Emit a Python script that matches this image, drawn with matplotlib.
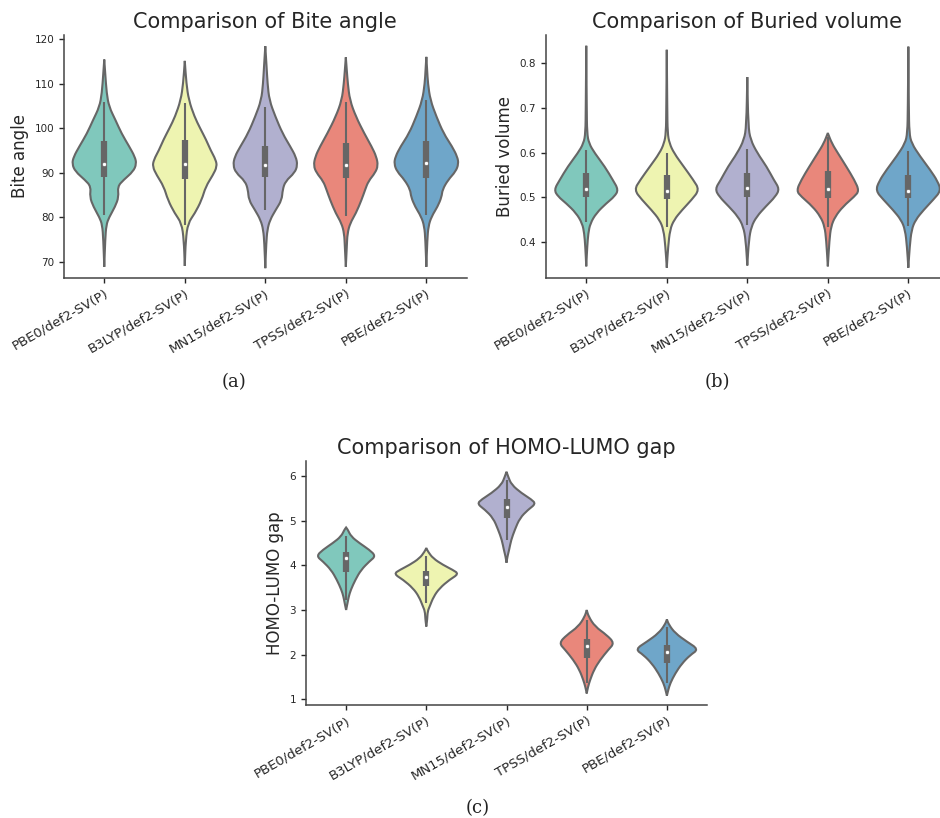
import matplotlib
matplotlib.use("Agg")
import matplotlib.pyplot as plt
from matplotlib.path import Path
from matplotlib.patches import PathPatch

methods = ["PBE0/def2-SV(P)", "B3LYP/def2-SV(P)", "MN15/def2-SV(P)",
           "TPSS/def2-SV(P)", "PBE/def2-SV(P)"]
palette = ["#80c8bc", "#eef4b1", "#b1b0cf", "#e9877b", "#6fa6c9"]

# ---- Bite angle: density outline (value levels, half widths) and box stats
bite_levels = [
    [68.9, 75.0, 78.3, 80.0, 82.4, 84.6, 86.9, 88.4, 90.3, 92.0, 93.6, 95.9, 98.8, 101.8, 104.8, 107.8, 112.3, 115.4],
    [69.1, 75.0, 78.7, 80.9, 83.9, 86.9, 89.5, 91.4, 92.9, 95.1, 97.4, 100.0, 102.6, 106.3, 110.0, 115.1],
    [68.6, 74.2, 77.2, 79.4, 81.7, 83.9, 86.2, 88.1, 90.0, 91.7, 93.6, 95.9, 98.8, 102.6, 106.3, 110.0, 113.8, 118.4],
    [68.9, 73.4, 76.4, 78.7, 80.9, 83.9, 86.2, 88.1, 90.0, 91.6, 93.6, 95.9, 98.8, 102.6, 106.3, 110.0, 113.0, 115.9],
    [68.9, 74.9, 78.0, 80.2, 82.4, 84.6, 86.2, 88.4, 90.3, 92.0, 93.6, 95.9, 98.8, 102.6, 106.3, 110.0, 113.0, 116.0],
]
bite_widths = [
    [0, .012, .025, .06, .135, .18, .165, .24, .36, .40, .38, .31, .215, .14, .06, .03, .012, 0],
    [0, .012, .04, .125, .21, .26, .35, .40, .385, .32, .265, .19, .12, .05, .02, 0],
    [0, .012, .025, .058, .13, .205, .215, .25, .365, .40, .38, .31, .215, .125, .05, .028, .016, 0],
    [0, .012, .02, .054, .125, .195, .24, .28, .365, .40, .38, .32, .23, .125, .05, .025, .012, 0],
    [0, .012, .025, .065, .14, .19, .20, .27, .365, .40, .385, .32, .215, .125, .05, .02, .01, 0],
]
bite_q1 = [89.1, 88.5, 89.1, 88.8, 88.9]
bite_median = [92.0, 91.9, 91.8, 91.7, 92.2]
bite_q3 = [97.1, 97.4, 96.1, 96.6, 97.2]
bite_whisker_lo = [80.5, 78.3, 81.7, 80.2, 80.5]
bite_whisker_hi = [105.9, 105.6, 104.8, 105.9, 106.3]

# ---- Buried volume
vbur_levels = [
    [0.346, 0.390, 0.420, 0.442, 0.465, 0.487, 0.502, 0.517, 0.539, 0.569, 0.599, 0.621, 0.644, 0.700, 0.839],
    [0.343, 0.390, 0.428, 0.450, 0.472, 0.495, 0.517, 0.539, 0.569, 0.599, 0.621, 0.644, 0.700, 0.830],
    [0.348, 0.405, 0.435, 0.457, 0.480, 0.502, 0.519, 0.539, 0.569, 0.599, 0.629, 0.660, 0.769],
    [0.346, 0.405, 0.435, 0.457, 0.480, 0.502, 0.515, 0.539, 0.569, 0.599, 0.621, 0.644],
    [0.343, 0.390, 0.428, 0.450, 0.472, 0.495, 0.515, 0.536, 0.562, 0.592, 0.621, 0.644, 0.700, 0.837],
]
vbur_widths = [
    [0, .012, .025, .05, .125, .25, .35, .40, .33, .23, .105, .033, .01, .006, 0],
    [0, .017, .04, .09, .19, .31, .405, .33, .21, .09, .033, .01, .006, 0],
    [0, .02, .05, .115, .23, .35, .40, .33, .24, .125, .04, .012, 0],
    [0, .02, .04, .09, .19, .33, .39, .33, .23, .125, .05, 0],
    [0, .017, .04, .09, .19, .31, .405, .365, .27, .145, .04, .012, .006, 0],
]
vbur_q1 = [0.500, 0.497, 0.500, 0.498, 0.498]
vbur_median = [0.518, 0.515, 0.522, 0.518, 0.515]
vbur_q3 = [0.554, 0.550, 0.554, 0.559, 0.550]
vbur_whisker_lo = [0.446, 0.435, 0.439, 0.435, 0.437]
vbur_whisker_hi = [0.606, 0.600, 0.609, 0.636, 0.603]

# ---- HOMO-LUMO gap
gap_levels = [
    [3.00, 3.15, 3.30, 3.45, 3.68, 3.90, 4.09, 4.21, 4.35, 4.50, 4.65, 4.80, 4.85],
    [2.63, 2.80, 2.97, 3.08, 3.30, 3.49, 3.68, 3.81, 3.90, 4.01, 4.16, 4.31, 4.39],
    [4.06, 4.20, 4.35, 4.57, 4.80, 5.06, 5.25, 5.38, 5.48, 5.62, 5.81, 5.99, 6.10],
    [1.13, 1.28, 1.43, 1.66, 1.88, 2.11, 2.26, 2.44, 2.63, 2.85, 3.00],
    [1.08, 1.21, 1.36, 1.58, 1.80, 1.99, 2.12, 2.29, 2.48, 2.67, 2.79],
]
gap_widths = [
    [0, .017, .033, .058, .116, .187, .29, .37, .29, .166, .062, .021, 0],
    [0, .012, .017, .042, .091, .166, .29, .405, .33, .21, .083, .021, 0],
    [0, .012, .033, .058, .104, .166, .27, .365, .31, .187, .062, .021, 0],
    [0, .017, .042, .091, .166, .27, .345, .25, .104, .025, 0],
    [0, .017, .042, .104, .187, .29, .395, .25, .104, .025, 0],
]
gap_q1 = [3.86, 3.53, 5.06, 1.92, 1.82]
gap_median = [4.16, 3.73, 5.32, 2.20, 2.07]
gap_q3 = [4.31, 3.88, 5.49, 2.35, 2.22]
gap_whisker_lo = [3.23, 3.15, 4.57, 1.36, 1.36]
gap_whisker_hi = [4.65, 4.20, 5.92, 2.78, 2.63]

GRAY = "#666666"
TEXT = "#262626"


def violin_path(center, levels, widths):
    # closed outline: right side bottom->top, left side top->bottom,
    # rounded with quadratic segments between the profile points
    pts = [(center + w, y) for y, w in zip(levels, widths)]
    pts += [(center - w, y) for y, w in zip(levels[::-1], widths[::-1])]
    n = len(pts)
    mid = lambda a, b: ((a[0] + b[0]) / 2, (a[1] + b[1]) / 2)
    verts = [mid(pts[-1], pts[0])]
    codes = [Path.MOVETO]
    for i in range(n):
        verts += [pts[i], mid(pts[i], pts[(i + 1) % n])]
        codes += [Path.CURVE3, Path.CURVE3]
    return Path(verts, codes)


def draw_panel(ax, levels, widths, q1, med, q3, lo, hi, title, ylabel,
               ylim, yticks):
    for i in range(len(methods)):
        patch = PathPatch(violin_path(i, levels[i], widths[i]),
                          facecolor=palette[i], edgecolor=GRAY,
                          linewidth=1.5, zorder=1)
        ax.add_patch(patch)
        ax.plot([i, i], [lo[i], hi[i]], color=GRAY, lw=1.5,
                solid_capstyle="butt", zorder=2)
        ax.plot([i, i], [q1[i], q3[i]], color=GRAY, lw=4.5,
                solid_capstyle="butt", zorder=2)
        ax.scatter([i], [med[i]], s=9, color="white", edgecolor=GRAY,
                   linewidth=0.5, zorder=3)
    ax.set_xlim(-0.5, len(methods) - 0.5)
    ax.set_ylim(*ylim)
    ax.set_yticks(yticks)
    ax.set_xticks(range(len(methods)))
    ax.set_xticklabels(methods, rotation=30, ha="right",
                       rotation_mode="anchor", fontsize=9.5, color=TEXT)
    ax.tick_params(axis="y", labelsize=7.5, labelcolor=TEXT, color=TEXT,
                   length=3.5, width=1)
    ax.tick_params(axis="x", color=TEXT, length=3.5, width=1, pad=3)
    ax.set_title(title, fontsize=15, color=TEXT, pad=5)
    ax.set_ylabel(ylabel, fontsize=12, color=TEXT, labelpad=4)
    for side in ("top", "right"):
        ax.spines[side].set_visible(False)
    for side in ("left", "bottom"):
        ax.spines[side].set_color("#444444")
        ax.spines[side].set_linewidth(1.1)


plt.rcParams["font.family"] = ["DejaVu Sans"]
W, H = 940, 818
fig = plt.figure(figsize=(W / 100, H / 100), dpi=100)


def px_axes(x0, x1, y_top, y_bottom):
    return fig.add_axes([x0 / W, 1 - y_bottom / H, (x1 - x0) / W,
                         (y_bottom - y_top) / H])


ax_a = px_axes(64, 466.6, 35, 278)
ax_b = px_axes(546, 948.6, 35, 278)
ax_c = px_axes(306, 707, 461, 705.3)

draw_panel(ax_a, bite_levels, bite_widths, bite_q1, bite_median, bite_q3,
           bite_whisker_lo, bite_whisker_hi, "Comparison of Bite angle",
           "Bite angle", (66.4, 120.9), [70, 80, 90, 100, 110, 120])
draw_panel(ax_b, vbur_levels, vbur_widths, vbur_q1, vbur_median, vbur_q3,
           vbur_whisker_lo, vbur_whisker_hi, "Comparison of Buried volume",
           "Buried volume", (0.32, 0.863), [0.4, 0.5, 0.6, 0.7, 0.8])
draw_panel(ax_c, gap_levels, gap_widths, gap_q1, gap_median, gap_q3,
           gap_whisker_lo, gap_whisker_hi, "Comparison of HOMO-LUMO gap",
           "HOMO-LUMO gap", (0.865, 6.34), [1, 2, 3, 4, 5, 6])

for label, (x, y) in zip(["(a)", "(b)", "(c)"],
                         [(234, 382), (717, 382), (478, 808)]):
    fig.text(x / W, 1 - y / H, label, ha="center", va="center",
             fontsize=13, family="DejaVu Serif", color="#222222")

fig.savefig("out.png", dpi=100)
